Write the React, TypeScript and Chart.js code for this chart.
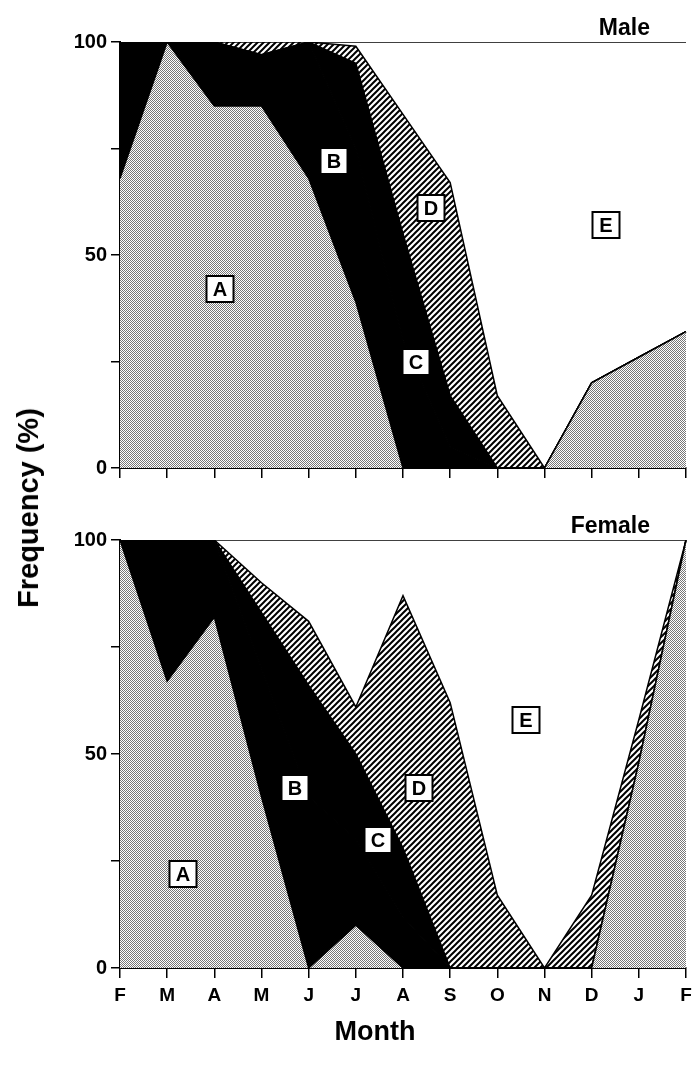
import React, { useEffect, useRef } from 'react';
import { Chart, registerables } from 'chart.js';

Chart.register(...registerables);

// ---- data ----
const months = ['F', 'M', 'A', 'M', 'J', 'J', 'A', 'S', 'O', 'N', 'D', 'J', 'F'];
const seriesNames = ['A', 'B', 'C', 'D', 'E'];

const maleA = [68, 100, 85, 85, 68, 39, 0, 0, 0, 0, 20, 26, 32];
const maleB = [32, 0, 15, 12, 32, 36, 30, 5, 0, 0, 0, 0, 0];
const maleC = [0, 0, 0, 0, 0, 20, 25, 12, 0, 0, 0, 0, 0];
const maleD = [0, 0, 0, 3, 0, 4, 28, 50, 17, 0, 0, 0, 0];
const maleE = [0, 0, 0, 0, 0, 1, 17, 33, 83, 100, 80, 74, 68];

const femaleA = [100, 67, 82, 40, 0, 10, 0, 0, 0, 0, 0, 48, 100];
const femaleB = [0, 33, 18, 30, 40, 20, 12, 0, 0, 0, 0, 0, 0];
const femaleC = [0, 0, 0, 13, 26, 20, 16, 0, 0, 0, 0, 0, 0];
const femaleD = [0, 0, 0, 7, 15, 11, 59, 62, 17, 0, 17, 10, 0];
const femaleE = [0, 0, 0, 10, 19, 39, 13, 38, 83, 100, 83, 42, 0];

const yTickLabels = [0, 50, 100];

// label boxes: x = month index (fractional), y = percent
const maleBoxes = [
  { text: 'A', x: 2.11, y: 42 },
  { text: 'B', x: 4.54, y: 72 },
  { text: 'C', x: 6.27, y: 25 },
  { text: 'D', x: 6.59, y: 61 },
  { text: 'E', x: 10.31, y: 57 },
];
const femaleBoxes = [
  { text: 'A', x: 1.33, y: 22 },
  { text: 'B', x: 3.72, y: 42 },
  { text: 'C', x: 5.47, y: 30 },
  { text: 'D', x: 6.34, y: 42 },
  { text: 'E', x: 8.6, y: 58 },
];

const FONT = '"Liberation Sans", Arial, Helvetica, sans-serif';

function stipplePattern(): CanvasPattern | string {
  const c = document.createElement('canvas');
  c.width = 2;
  c.height = 2;
  const g = c.getContext('2d');
  if (!g) return '#bbbbbb';
  g.fillStyle = '#ffffff';
  g.fillRect(0, 0, 2, 2);
  g.fillStyle = '#777777';
  g.fillRect(0, 0, 1, 1);
  g.fillRect(1, 1, 1, 1);
  return g.createPattern(c, 'repeat') || '#bbbbbb';
}

function hatchPattern(): CanvasPattern | string {
  const s = 6;
  const c = document.createElement('canvas');
  c.width = s;
  c.height = s;
  const g = c.getContext('2d');
  if (!g) return '#888';
  g.fillStyle = '#ffffff';
  g.fillRect(0, 0, s, s);
  g.strokeStyle = '#000000';
  g.lineWidth = 2;
  g.beginPath();
  g.moveTo(0, s);
  g.lineTo(s, 0);
  g.moveTo(-1, 1);
  g.lineTo(1, -1);
  g.moveTo(s - 1, s + 1);
  g.lineTo(s + 1, s - 1);
  g.stroke();
  return g.createPattern(c, 'repeat') || '#888';
}

const panelPlugin = {
  id: 'panelText',
  afterDatasetsDraw(chart: any, _args: any, opts: any) {
    const { ctx } = chart;
    const xs = chart.scales.x;
    const ys = chart.scales.y;
    ctx.save();
    const w = 27;
    const h = 26;
    for (const b of opts.boxes || []) {
      const px = Math.round(xs.getPixelForValue(b.x));
      const py = Math.round(ys.getPixelForValue(b.y));
      ctx.fillStyle = '#ffffff';
      ctx.fillRect(px - w / 2, py - h / 2, w, h);
      ctx.strokeStyle = '#000000';
      ctx.lineWidth = 2;
      ctx.strokeRect(px - w / 2, py - h / 2, w, h);
      ctx.fillStyle = '#000000';
      ctx.font = `bold 20px ${FONT}`;
      ctx.textAlign = 'center';
      ctx.textBaseline = 'middle';
      ctx.fillText(b.text, px, py + 1);
    }
    if (opts.title) {
      ctx.fillStyle = '#000000';
      ctx.font = `bold 23px ${FONT}`;
      ctx.textAlign = 'right';
      ctx.textBaseline = 'alphabetic';
      ctx.fillText(opts.title, opts.titleRight, opts.titleBaseline);
    }
    ctx.restore();
  },
};

function buildConfig(values: number[][], opts: {
  boxes: any[];
  title: string;
  titleBaseline: number;
  topPad: number;
  xHeight: number;
  showXLabels: boolean;
}) {
  const stip = stipplePattern();
  const hatch = hatchPattern();
  const fills = [stip, '#000000', '#000000', hatch, '#ffffff'];
  const datasets = values.map((vals, i) => ({
    label: seriesNames[i],
    data: vals,
    backgroundColor: fills[i],
    borderColor: '#000000',
    borderWidth: 1.5,
    pointRadius: 0,
    tension: 0,
    fill: i === 0 ? 'origin' : '-1',
  }));
  return {
    type: 'line' as const,
    data: { labels: months, datasets },
    plugins: [panelPlugin],
    options: {
      animation: false,
      responsive: false,
      devicePixelRatio: 1,
      layout: { padding: { top: opts.topPad, right: 6, left: 0, bottom: 0 } },
      plugins: {
        legend: { display: false },
        tooltip: { enabled: false },
        panelText: {
          boxes: opts.boxes,
          title: opts.title,
          titleRight: 650,
          titleBaseline: opts.titleBaseline,
        },
      },
      scales: {
        x: {
          type: 'category',
          offset: false,
          grid: {
            display: true,
            drawOnChartArea: false,
            drawTicks: true,
            tickLength: 10,
            color: '#000000',
            lineWidth: 1.5,
          },
          border: { display: true, color: '#000000', width: 2 },
          ticks: {
            display: opts.showXLabels,
            autoSkip: false,
            maxRotation: 0,
            color: '#000000',
            padding: 6,
            font: { family: FONT, size: 19, weight: 'bold' },
          },
          afterFit: (s: any) => {
            s.height = opts.xHeight;
            s.paddingLeft = 0;
            s.paddingRight = 0;
          },
        },
        y: {
          stacked: true,
          min: 0,
          max: 100,
          grid: {
            display: true,
            drawOnChartArea: false,
            drawTicks: true,
            tickLength: 9,
            color: '#000000',
            lineWidth: 1.5,
          },
          border: { display: true, color: '#000000', width: 2 },
          ticks: {
            stepSize: 25,
            color: '#000000',
            padding: 4,
            font: { family: FONT, size: 20, weight: 'bold' },
            callback: (v: any) => (yTickLabels.includes(Number(v)) ? String(v) : ''),
          },
          afterFit: (s: any) => {
            s.width = 120;
            s.paddingTop = 0;
            s.paddingBottom = 0;
          },
        },
      },
    },
  };
}

export default function App() {
  const maleRef = useRef<HTMLCanvasElement | null>(null);
  const femaleRef = useRef<HTMLCanvasElement | null>(null);

  useEffect(() => {
    document.body.style.margin = '0';
    const charts: Chart[] = [];
    if (maleRef.current) {
      charts.push(
        new Chart(
          maleRef.current,
          buildConfig([maleA, maleB, maleC, maleD, maleE], {
            boxes: maleBoxes,
            title: 'Male',
            titleBaseline: 35,
            topPad: 42,
            xHeight: 32,
            showXLabels: false,
          }) as any
        )
      );
    }
    if (femaleRef.current) {
      charts.push(
        new Chart(
          femaleRef.current,
          buildConfig([femaleA, femaleB, femaleC, femaleD, femaleE], {
            boxes: femaleBoxes,
            title: 'Female',
            titleBaseline: 33,
            topPad: 40,
            xHeight: 101,
            showXLabels: true,
          }) as any
        )
      );
    }
    return () => charts.forEach((c) => c.destroy());
  }, []);

  return (
    <div style={{ position: 'absolute', left: 0, top: 0, width: 692, height: 1069, background: '#ffffff', overflow: 'hidden' }}>
      <canvas ref={maleRef} width={692} height={500} style={{ position: 'absolute', left: 0, top: 0, width: 692, height: 500 }} />
      <canvas ref={femaleRef} width={692} height={569} style={{ position: 'absolute', left: 0, top: 500, width: 692, height: 569 }} />
      <div
        style={{
          position: 'absolute',
          left: 28,
          top: 508,
          transform: 'translate(-50%, -50%) rotate(-90deg)',
          whiteSpace: 'nowrap',
          fontFamily: FONT,
          fontWeight: 'bold',
          fontSize: 29,
          lineHeight: '32px',
          color: '#000000',
        }}
      >
        Frequency (%)
      </div>
      <div
        style={{
          position: 'absolute',
          left: 375,
          top: 1031,
          transform: 'translate(-50%, -50%)',
          whiteSpace: 'nowrap',
          fontFamily: FONT,
          fontWeight: 'bold',
          fontSize: 27,
          lineHeight: '30px',
          color: '#000000',
        }}
      >
        Month
      </div>
    </div>
  );
}
